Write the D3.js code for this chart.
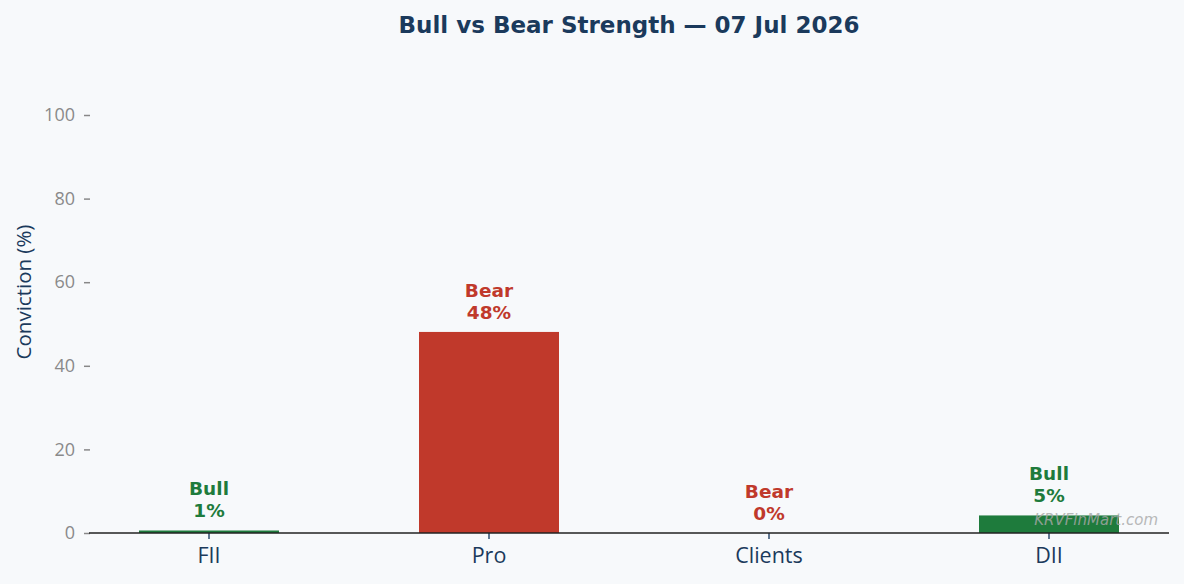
<!DOCTYPE html>
<html>
<head>
<meta charset="utf-8">
<script src="https://cdn.jsdelivr.net/npm/d3@7"></script>
<style>
  html, body { margin: 0; padding: 0; background: #f7f9fb; }
  svg { display: block; }
</style>
</head>
<body>
<div id="chart"></div>
<script>
// data
const categories = ['FII', 'Pro', 'Clients', 'DII']
const values = [0.6, 48.1, 0, 4.2]
const sides = ['Bull', 'Bear', 'Bear', 'Bull']
const shownPct = [1, 48, 0, 5]
const yTicks = [0, 20, 40, 60, 80, 100]

const width = 1184, height = 584
const colors = { Bull: '#1e7b3c', Bear: '#c0392b' }
const navy = '#1b3a5c'

const svg = d3.select('#chart').append('svg')
  .attr('width', width).attr('height', height)

svg.append('rect').attr('width', width).attr('height', height).attr('fill', '#f7f9fb')

// scales
let x = d3.scaleBand()
  .domain(categories)
  .range([69, 1189])
  .paddingInner(0.5)
  .paddingOuter(0.25)

let y = d3.scaleLinear()
  .domain([0, 100])
  .range([533, 115])

/** 标题 */
svg.append('text')
  .attr('x', 629).attr('y', 33)
  .attr('text-anchor', 'middle')
  .attr('font-family', 'DejaVu Sans')
  .attr('font-weight', 'bold')
  .attr('font-size', 23)
  .attr('fill', navy)
  .text('Bull vs Bear Strength — 07 Jul 2026')

/** y axis, no spine */
let yAxis = svg.append('g')
  .attr('transform', 'translate(90,0)')
  .call(d3.axisLeft(y).tickValues(yTicks).tickSize(6).tickPadding(9))
yAxis.select('.domain').remove()
yAxis.selectAll('.tick line').attr('stroke', '#888').attr('stroke-width', 1.5)
yAxis.selectAll('.tick text')
  .attr('fill', '#8a8a8a')
  .attr('font-family', 'Open Sans')
  .attr('font-size', 18)

svg.append('text')
  .attr('transform', 'translate(31,292) rotate(-90)')
  .attr('text-anchor', 'middle')
  .attr('font-family', 'Open Sans')
  .attr('font-size', 20.5)
  .attr('fill', navy)
  .text('Conviction (%)')

/** bars */
svg.append('g').selectAll('rect')
  .data(categories)
  .join('rect')
  .attr('x', d => x(d))
  .attr('width', x.bandwidth())
  .attr('y', (d, i) => y(values[i]))
  .attr('height', (d, i) => y(0) - y(values[i]))
  .attr('fill', (d, i) => colors[sides[i]])

/** x axis */
let xAxis = svg.append('g')
  .attr('transform', `translate(0,${y(0)})`)
  .call(d3.axisBottom(x).tickSize(6).tickPadding(9).tickSizeOuter(0))
xAxis.select('.domain').remove()
xAxis.selectAll('.tick line').attr('stroke', '#2c4a6e').attr('stroke-width', 1.5)
xAxis.selectAll('.tick text')
  .attr('fill', navy)
  .attr('font-family', 'Open Sans')
  .attr('font-size', 21.5)

svg.append('line')
  .attr('x1', 89).attr('x2', 1169)
  .attr('y1', y(0)).attr('y2', y(0))
  .attr('stroke', '#222').attr('stroke-width', 1.6)

/** value labels */
let labels = svg.append('g').selectAll('text')
  .data(categories)
  .join('text')
  .attr('text-anchor', 'middle')
  .attr('font-family', 'DejaVu Sans')
  .attr('font-weight', 'bold')
  .attr('font-size', 18.5)
  .attr('fill', (d, i) => colors[sides[i]])
  .attr('x', d => x(d) + x.bandwidth() / 2)
  .attr('y', (d, i) => y(values[i]) - 35)
labels.append('tspan').text((d, i) => sides[i])
labels.append('tspan')
  .attr('x', d => x(d) + x.bandwidth() / 2)
  .attr('dy', 22)
  .text((d, i) => shownPct[i] + '%')

/** watermark */
svg.append('text')
  .attr('x', 1158).attr('y', 525)
  .attr('text-anchor', 'end')
  .attr('font-family', 'DejaVu Sans')
  .attr('font-style', 'italic')
  .attr('font-size', 15)
  .attr('fill', '#a8a8a8')
  .attr('opacity', 0.8)
  .text('KRVFinMart.com')
</script>
</body>
</html>
